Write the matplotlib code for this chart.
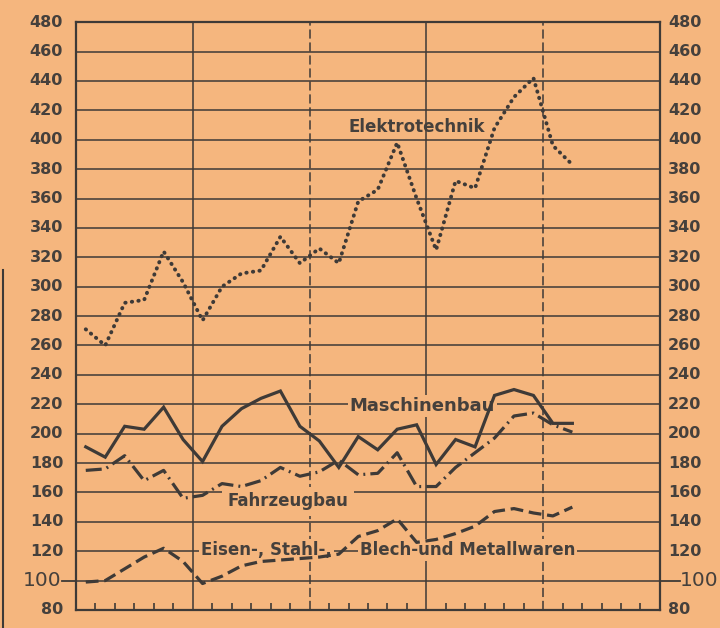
import numpy as np
import matplotlib
matplotlib.use("Agg")
import matplotlib.pyplot as plt
from matplotlib import font_manager as fm
from matplotlib.transforms import blended_transform_factory

# Werte je Zeitpunkt (26 Punkte, 6 Punkte je Abschnitt)
elektro = [271, 260, 289, 291, 324, 303, 277, 300, 309, 311, 334, 316, 326,
           316, 358, 366, 398, 360, 325, 372, 367, 408, 429, 442, 396, 383]
maschinen = [191, 184, 205, 203, 218, 196, 181, 205, 217, 224, 229, 205, 195,
             177, 198, 189, 203, 206, 179, 196, 191, 226, 230, 226, 207, 207]
fahrzeug = [175, 176, 185, 168, 175, 156, 158, 166, 164, 168, 177, 171, 174,
            182, 172, 173, 187, 164, 164, 177, 187, 197, 212, 214, 206, 201]
eisen = [99, 100, 108, 116, 122, 113, 98, 103, 110, 113, 114, 115, 116,
         118, 130, 134, 142, 126, 128, 132, 137, 147, 149, 146, 144, 150]
y_ticks = list(range(80, 481, 20))
n_slots = 30

BG = "#f5b67e"
INK = "#3e3a37"
TXT = "#45403c"

names = {f.name for f in fm.fontManager.ttflist}
narrow = "Liberation Sans Narrow" if "Liberation Sans Narrow" in names else "DejaVu Sans"

fig = plt.figure(figsize=(7.2, 6.28), dpi=100, facecolor=BG)
ax = fig.add_axes([0.1056, 0.0287, 0.811, 0.936])
ax.set_facecolor(BG)

x = np.arange(len(elektro)) + 0.5

# Raster
for v in y_ticks[1:-1]:
    ax.axhline(v, color=INK, lw=1.1, zorder=1)
for v, ls in [(6, "-"), (12, (0, (6, 2.5))), (18, "-"), (24, (0, (6, 2.5)))]:
    ax.axvline(v, color=INK, lw=1.1, ls=ls, zorder=1)

# Kurven
ax.plot(x, elektro, color=INK, lw=2.8, ls=(0, (0.1, 1.6)),
        dash_capstyle="round", zorder=3)
ax.plot(x, maschinen, color=INK, lw=2.3, solid_joinstyle="miter", zorder=3)
ax.plot(x, fahrzeug, color=INK, lw=2.3, ls=(0, (5, 1.6, 0.6, 1.6)), zorder=3)
ax.plot(x, eisen, color=INK, lw=2.3, ls=(0, (4, 1.8)), zorder=3)

ax.set_xlim(0, n_slots)
ax.set_ylim(80, 480)
for s in ax.spines.values():
    s.set_color(INK)
    s.set_linewidth(1.6)

ticks = [i for i in range(1, n_slots) if i % 6 != 0]
ax.set_xticks(ticks)
ax.set_xticklabels([])
ax.tick_params(axis="x", direction="in", length=5, width=1.2, color=INK)
ax.set_yticks([])

# Achsenbeschriftung links und rechts
tr = blended_transform_factory(ax.transAxes, ax.transData)
for v in y_ticks:
    if v == 100:
        ax.plot([-0.024, 0], [v, v], color=INK, lw=1.3, transform=tr, clip_on=False)
        ax.plot([1, 1.034], [v, v], color=INK, lw=1.3, transform=tr, clip_on=False)
        ax.text(-0.025, v, "100", transform=tr, ha="right", va="center",
                fontsize=14.5, color=TXT, family=narrow)
        ax.text(1.034, v, "100", transform=tr, ha="left", va="center",
                fontsize=14.5, color=TXT, family=narrow)
    else:
        ax.text(-0.022, v, str(v), transform=tr, ha="right", va="center",
                fontsize=11.5, fontweight="bold", color=TXT, family=narrow)
        ax.text(1.014, v, str(v), transform=tr, ha="left", va="center",
                fontsize=11.5, fontweight="bold", color=TXT, family=narrow)

# Beschriftung der Kurven (unter den Kurven, aber über dem Raster)
box = dict(facecolor=BG, edgecolor="none", pad=1.5)
lab = dict(fontsize=12, fontweight="bold", color=TXT, ha="center", va="center",
           zorder=2)
ax.text(17.5, 409, "Elektrotechnik", **lab)
ax.text(17.8, 219, "Maschinenbau", bbox=box, **{**lab, "fontsize": 13})
ax.text(10.9, 154, "Fahrzeugbau", bbox=dict(facecolor=BG, edgecolor="none", pad=4), **lab)
ax.text(9.8, 121, "Eisen-, Stahl-,", bbox=box, **lab)
ax.text(20.1, 121, "Blech-und Metallwaren", bbox=box, **lab)

# Rand des Scans links
fig.add_artist(plt.Line2D([0.004, 0.004], [0, 0.57], color=INK, lw=1.5))

fig.savefig("out.png", dpi=100, facecolor=BG)
